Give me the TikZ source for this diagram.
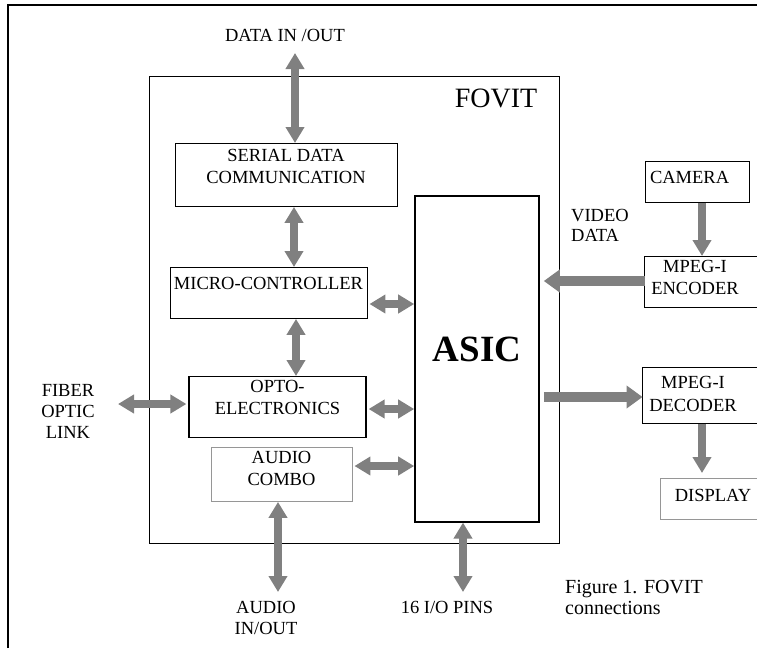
\documentclass[tikz,border=0pt]{standalone}
\usepackage{fontspec}
\setmainfont{Liberation Serif}
\usetikzlibrary{arrows.meta}

\definecolor{busgray}{RGB}{128,128,128}
\definecolor{palegray}{RGB}{150,150,150}

\tikzset{
    block/.style={draw=black, line width=0.9pt, align=center, inner sep=0pt, anchor=north, font=\fontsize{18.5}{22}\selectfont},
    pale block/.style={block, draw=palegray},
    box line/.style={draw=black, line width=0.9pt},
    tag/.style={inner sep=0pt, align=center, font=\fontsize{18.5}{21}\selectfont},
    bus/.style={draw=busgray, line width=8pt, {Triangle[length=16pt,width=18pt]}-{Triangle[length=16pt,width=18pt]}},
    feed/.style={draw=busgray, line width=8pt, -{Triangle[length=16pt,width=18pt]}},
    video feed/.style={draw=busgray, line width=10pt, -{Triangle[length=16pt,width=22pt]}},
}

\begin{document}
\begin{tikzpicture}[x=1pt, y=-1pt]
    \useasboundingbox (0,0) rectangle (757,648);
    \clip (0,0) rectangle (757,648);

    % Outer frame and the FOVIT unit
    \draw[line width=1.2pt] (8,648) -- (8,5) -- (757,5);
    \draw[line width=1pt] (149,76) rectangle (559,543);
    \node[tag, font=\fontsize{28}{30}\selectfont] (fovitlbl) at (496,98) {FOVIT};

    % Blocks inside the unit
    \node[block, minimum width=222pt, text height=40pt, text depth=23pt] (serial) at (286,143) {SERIAL DATA\\COMMUNICATION};
    \node[block, minimum width=197pt, text height=22pt, text depth=29pt] (micro) at (268.5,267) {MICRO-CONTROLLER};
    \node[block, line width=1.2pt, minimum width=177pt, text height=38pt, text depth=23pt] (opto) at (277.5,376) {OPTO-\\ELECTRONICS};
    \node[pale block, minimum width=141pt, text height=38pt, text depth=16pt] (audio) at (281.5,447) {AUDIO\\COMBO};
    \node[block, line width=1.6pt, minimum width=124pt, text height=166pt, text depth=160pt,
          font=\fontsize{37}{40}\selectfont\bfseries] (asic) at (477,195) {ASIC};

    % Video chain on the right, cut by the page edge
    \node[block, text width=94pt, inner xsep=5pt, align=left, text height=22pt, text depth=19pt] (camera) at (697,161) {CAMERA};
    \node[block, draw=none, minimum width=100pt, text height=38pt, text depth=13pt] (enc) at (695,256) {MPEG-I\\ENCODER};
    \draw[box line] ([xshift=112pt]enc.north west) -- (enc.north west) -- (enc.south west) -- ++(112,0);
    \node[block, draw=none, minimum width=100pt, text height=44pt, text depth=12pt] (dec) at (693,367) {MPEG-I\\[1pt]DECODER};
    \draw[box line] ([xshift=114pt]dec.north west) -- (dec.north west) -- (dec.south west) -- ++(114,0);
    \node[pale block, draw=none, minimum width=104pt, text height=23pt, text depth=18pt] (disp) at (713,478) {DISPLAY};
    \draw[box line, draw=palegray] ([xshift=96pt]disp.north west) -- (disp.north west) -- (disp.south west) -- ++(96,0);

    % Outside labels
    \node[tag] (dataio) at (285,35) {DATA IN /OUT};
    \node[tag, align=left, anchor=west, font=\fontsize{18.5}{20}\selectfont] (videolbl) at (571,225) {VIDEO\\DATA};
    \node[tag] (fiberlbl) at (68,411) {FIBER\\OPTIC\\LINK};
    \node[tag] (audiolbl) at (266,617.5) {AUDIO\\IN/OUT};
    \node[tag] (pinslbl) at (447,607) {16 I/O PINS};
    \node[tag, align=left, anchor=west, font=\fontsize{20}{21}\selectfont] (figcap) at (565,597.5) {Figure 1. FOVIT\\connections};

    % Free ends, columns and rows of the connectors
    \coordinate (dataend) at (295,53);
    \coordinate (fiberend) at (118,404);
    \coordinate (audioend) at (278,592);
    \coordinate (pinsend) at (463,592);
    \coordinate (colSM) at (294,0);
    \coordinate (colMO) at (296,0);
    \coordinate (colV) at (702,0);
    \coordinate (rowMA) at (0,304);
    \coordinate (rowOA) at (0,409);
    \coordinate (rowCA) at (0,466);
    \coordinate (rowE) at (0,281);
    \coordinate (rowD) at (0,397);

    % Buses
    \draw[bus] (dataend) -- (dataend |- serial.north);
    \draw[bus] (serial.south -| colSM) -- (micro.north -| colSM);
    \draw[bus] (micro.south -| colMO) -- (opto.north -| colMO);
    \draw[bus, shorten <=2pt] (micro.east |- rowMA) -- (asic.west |- rowMA);
    \draw[bus, shorten <=2pt] (opto.east |- rowOA) -- (asic.west |- rowOA);
    \draw[bus, shorten <=2pt] (audio.east |- rowCA) -- (asic.west |- rowCA);
    \draw[bus, shorten >=2pt] (fiberend) -- (opto.west |- fiberend);
    \draw[bus] (audio.south -| audioend) -- (audioend);
    \draw[bus] (asic.south -| pinsend) -- (pinsend);

    % Video data path
    \draw[feed] (camera.south -| colV) -- (enc.north -| colV);
    \draw[video feed, shorten >=4pt] (enc.west |- rowE) -- (asic.east |- rowE);
    \draw[video feed, shorten <=4pt] (asic.east |- rowD) -- (dec.west |- rowD);
    \draw[feed, shorten >=5pt] (dec.south -| colV) -- (disp.north -| colV);

\end{tikzpicture}
\end{document}
